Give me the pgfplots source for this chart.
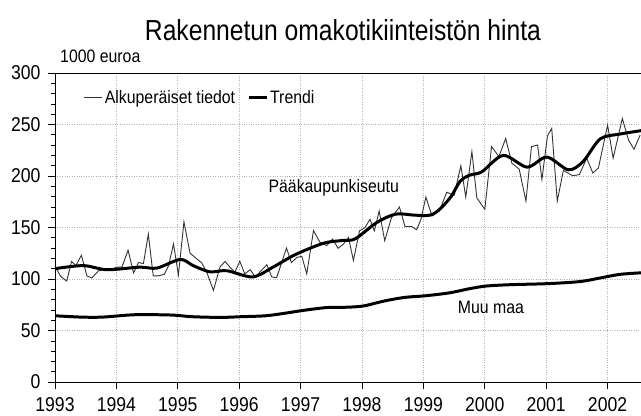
\documentclass[border=0pt]{standalone}
\usepackage{fontspec}
\setmainfont{Liberation Sans}
\newfontfamily\narrowfont[FakeStretch=0.88]{Liberation Sans}
\newfontfamily\titlefont[FakeStretch=0.85]{Liberation Sans}
\usepackage{pgfplots}
\pgfplotsset{compat=1.18}
\begin{document}
\begin{tikzpicture}
\path[use as bounding box] (-55bp,-34bp) rectangle (586bp,382bp);
\begin{axis}[
 at={(0,0)}, anchor=south west,
 width=586bp, height=309bp, scale only axis,
 xmin=1993, xmax=2002.544, ymin=0, ymax=300,
 axis x line*=bottom, axis y line*=left,
 axis line style={-, line width=0.9pt, black},
 xtick={1993,...,2002}, ytick={0,50,...,300},
 minor y tick num=4,
 scaled x ticks=false,
 tick align=outside,
 tick style={black, line width=0.6pt},
 major tick length=7bp, minor tick length=4bp,
 /pgf/number format/1000 sep={},
 /pgf/number format/assume math mode=true,
 x tick label style={font=\narrowfont\fontsize{20bp}{22bp}\selectfont, yshift=-5bp},
 y tick label style={font=\narrowfont\fontsize{20bp}{22bp}\selectfont, xshift=-4bp},
 grid=major, grid style={dotted, gray!60, line width=0.7pt},
 legend style={at={(axis cs:1993.42,276)}, anchor=west, draw=none, fill=none,
   legend columns=2, font=\narrowfont\fontsize{18bp}{20bp}\selectfont,
   /tikz/every even column/.append style={column sep=10bp}},
 legend image code/.code={\draw[#1] (0bp,0bp) -- (18bp,0bp);},
]
\addplot[black!80, line width=0.9pt] table {
1993.016 110.6
1993.092 102.6
1993.19 98
1993.27 117
1993.34 113
1993.43 123
1993.52 103
1993.60 101
1993.71 108
1993.79 109
1993.90 109
1994.00 111.5
1994.09 111.5
1994.19 128
1994.28 106
1994.36 116
1994.44 115
1994.52 143.6
1994.60 103
1994.68 103
1994.78 104.5
1994.85 113
1994.93 134
1995.01 104
1995.10 155.4
1995.20 125
1995.31 119.5
1995.39 115.7
1995.47 106.7
1995.58 89
1995.69 112
1995.77 117
1995.85 111.5
1995.93 106.7
1996.01 117.3
1996.09 105
1996.18 109
1996.26 102
1996.34 107
1996.45 113.8
1996.53 102
1996.61 101.3
1996.77 130
1996.85 116
1996.94 121
1997.02 122
1997.10 105
1997.21 147
1997.316 135.6
1997.425 132.4
1997.52 138.8
1997.61 129.8
1997.70 134
1997.78 140.4
1997.86 118
1997.96 146.8
1998.05 150
1998.13 158
1998.20 146.8
1998.28 166
1998.37 137.2
1998.48 159.6
1998.61 169.9
1998.70 151
1998.81 151
1998.89 147.8
1998.96 158
1999.04 179.5
1999.14 161.2
1999.26 166
1999.38 184.3
1999.50 181.1
1999.61 210
1999.69 179.5
1999.79 223.7
1999.87 178.8
2000.00 167.6
2000.11 228.5
2000.23 218.9
2000.34 236.5
2000.44 212.5
2000.56 206.7
2000.67 175.6
2000.76 228.5
2000.86 230.1
2000.93 196.5
2001.02 238.8
2001.09 246.2
2001.18 175.6
2001.28 205.4
2001.43 200.3
2001.54 201.3
2001.66 217.3
2001.76 202.9
2001.85 207.7
2002.00 249.4
2002.09 217.3
2002.24 255.8
2002.34 234.9
2002.43 226
2002.53 239.7
};
\addlegendentry{Alkuperäiset tiedot}
\addplot[black, line width=3pt, smooth] table {
1993.0 110
1993.46 113
1993.85 109
1994.38 111.5
1994.66 110.6
1995.04 119
1995.25 113
1995.52 107
1995.8 108
1996.22 102
1996.55 111.5
1996.88 122.7
1997.2 131
1997.43 135.6
1997.7 137.5
1997.89 139
1998.24 154.8
1998.55 163
1998.85 162
1999.11 162
1999.27 168
1999.45 180
1999.6 195
1999.76 201
1999.95 204
2000.3 220
2000.69 208.6
2001.01 218.4
2001.36 206
2001.6 214
2001.88 236
2002.2 240.7
2002.544 244
};
\addlegendentry{Trendi}
\addplot[black, line width=3pt, smooth, forget plot] table {
1993.0 64.3
1993.43 63
1993.77 63
1994.3 65.3
1994.9 65
1995.23 63.4
1995.7 62.7
1996.03 63.4
1996.43 64.3
1996.76 66.9
1997.03 69.4
1997.43 72.3
1997.76 72.6
1998.03 73.9
1998.36 78.6
1998.69 82.1
1999.03 83.7
1999.43 86.6
1999.76 90.7
2000.03 93.2
2000.43 94.5
2001.03 95.5
2001.55 97.5
2001.88 101
2002.2 104.5
2002.544 106
};
\draw[black, line width=0.9pt] (rel axis cs:0,1) -- (rel axis cs:1,1);
\node[font=\narrowfont\fontsize{18bp}{20bp}\selectfont] at (axis cs:1997.54,188.5) {Pääkaupunkiseutu};
\node[font=\narrowfont\fontsize{18bp}{20bp}\selectfont] at (axis cs:2000.1,72) {Muu maa};
\end{axis}
\node[anchor=base, font=\titlefont\fontsize{29bp}{32bp}\selectfont] at (288bp,341bp) {Rakennetun omakotikiinteistön hinta};
\node[anchor=base west, inner sep=0pt, font=\narrowfont\fontsize{18bp}{20bp}\selectfont] at (5bp,319bp) {1000 euroa};
\end{tikzpicture}
\end{document}
